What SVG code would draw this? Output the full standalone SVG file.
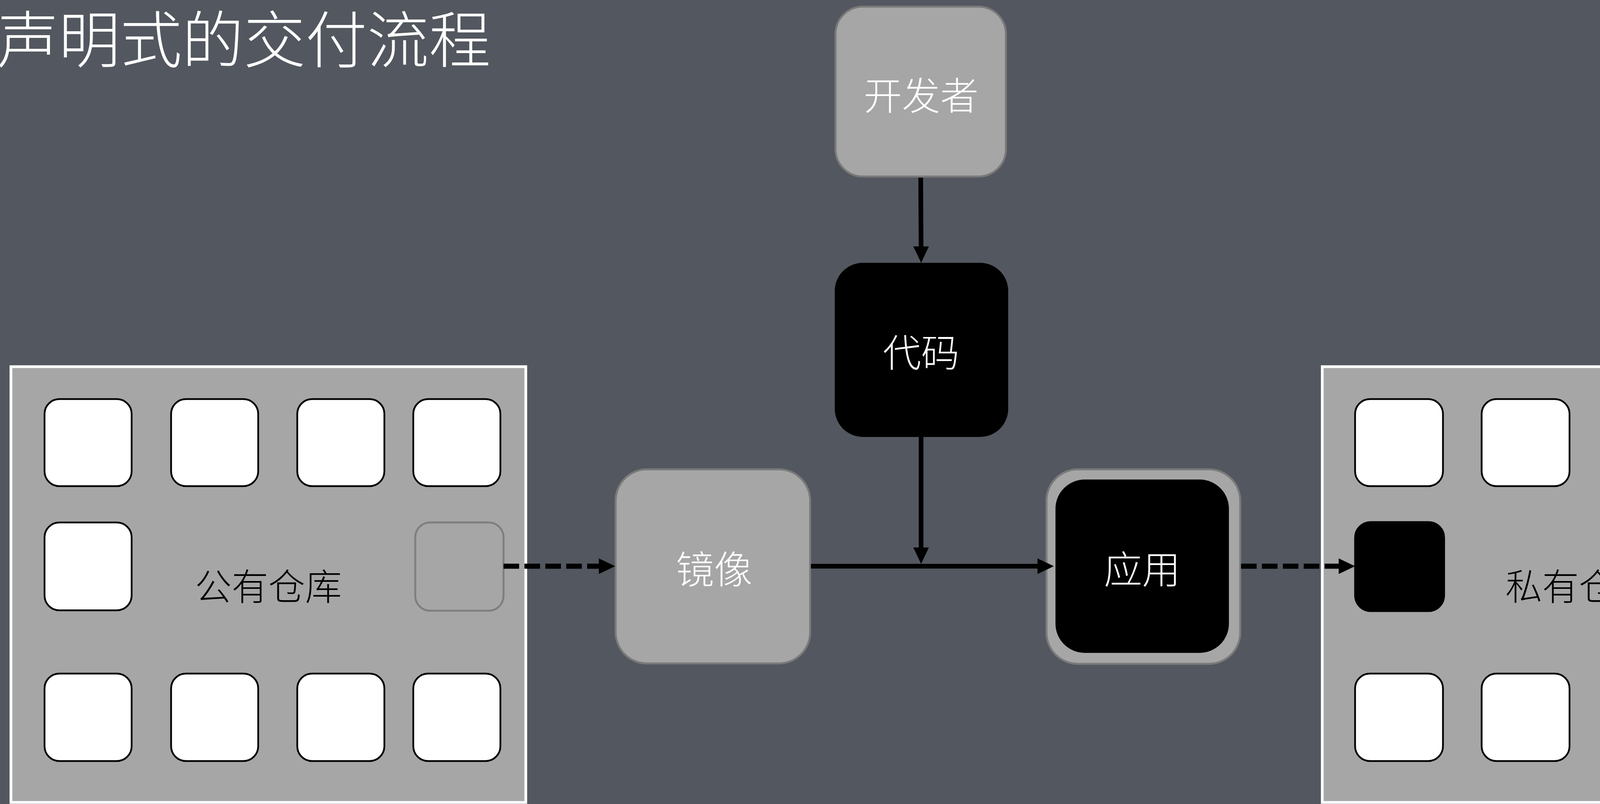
<svg xmlns="http://www.w3.org/2000/svg" width="4742" height="2059" viewBox="0 0 4742 2059">
<style>
.t{font-family:"Noto Sans CJK SC","Noto Sans",sans-serif;text-anchor:middle;font-weight:300}
.w{fill:#ffffff}
.b{fill:#000000}
.panel{fill:#a6a6a6;stroke:#ffffff;stroke-width:7}
.tile{fill:#ffffff;stroke:#000000;stroke-width:4.5}
.ghost{fill:#a6a6a6;stroke:#7f7f7f;stroke-width:5}
.dark{fill:#000000;stroke:#000000;stroke-width:4.5}
.grey{fill:#a6a6a6;stroke:#7a7a7a;stroke-width:5}
.solid{stroke:#000000;stroke-width:12;fill:none}
.dash{stroke:#000000;stroke-width:13;fill:none;stroke-dasharray:40 13.5}
</style>
<defs>
<marker id="ah" markerUnits="userSpaceOnUse" markerWidth="42" markerHeight="40" viewBox="0 0 42 40" refX="5" refY="20" orient="auto">
<path d="M0,0 L42,20 L0,40 Z" fill="#000000"/>
</marker>
</defs>
<rect x="0" y="0" width="4742" height="2059" fill="#53575f"/>
<text class="t w" x="-8" y="160" font-size="158" style="text-anchor:start">声明式的交付流程</text>

<g id="public-repo">
<rect class="panel" x="28" y="939" width="1318" height="1116"/>
<rect class="tile" x="114" y="1022" width="223" height="223" rx="38"/>
<rect class="tile" x="438" y="1022" width="223" height="223" rx="38"/>
<rect class="tile" x="761" y="1022" width="223" height="223" rx="38"/>
<rect class="tile" x="1058" y="1022" width="223" height="223" rx="38"/>
<rect class="tile" x="114" y="1338" width="223" height="225" rx="38"/>
<rect class="ghost" x="1063" y="1338" width="226" height="226" rx="38"/>
<rect class="tile" x="114" y="1725" width="223" height="224" rx="38"/>
<rect class="tile" x="438" y="1725" width="223" height="224" rx="38"/>
<rect class="tile" x="761" y="1725" width="223" height="224" rx="38"/>
<rect class="tile" x="1058" y="1725" width="223" height="224" rx="38"/>
<text class="t b" x="687" y="1537" font-size="94">公有仓库</text>
</g>

<g id="private-repo">
<rect class="panel" x="3385" y="939" width="1318" height="1116"/>
<rect class="tile" x="3469" y="1022" width="225" height="223" rx="38"/>
<rect class="tile" x="3793" y="1022" width="225" height="223" rx="38"/>
<rect class="tile" x="4116" y="1022" width="224" height="223" rx="38"/>
<rect class="tile" x="4413" y="1022" width="224" height="223" rx="38"/>
<rect class="dark" x="3469" y="1337" width="228" height="228" rx="40"/>
<rect class="tile" x="4420" y="1338" width="224" height="225" rx="38"/>
<rect class="tile" x="3469" y="1725" width="225" height="224" rx="38"/>
<rect class="tile" x="3793" y="1725" width="225" height="224" rx="38"/>
<rect class="tile" x="4116" y="1725" width="224" height="224" rx="38"/>
<rect class="tile" x="4413" y="1725" width="224" height="224" rx="38"/>
<text class="t b" x="4042" y="1537" font-size="94">私有仓库</text>
</g>

<g id="developer">
<rect class="grey" x="2139" y="17" width="436" height="435" rx="70"/>
<text class="t w" x="2358" y="281" font-size="98">开发者</text>
</g>

<g id="code">
<rect x="2137" y="673" width="444" height="446" rx="72" fill="#000000"/>
<text class="t w" x="2358" y="939" font-size="98">代码</text>
</g>

<g id="image">
<rect class="grey" x="1576" y="1202" width="498" height="497" rx="80"/>
<text class="t w" x="1828" y="1494" font-size="98">镜像</text>
</g>

<g id="app">
<rect class="grey" x="2679" y="1202" width="496" height="498" rx="80"/>
<rect x="2702" y="1228" width="444" height="444" rx="75" fill="#000000"/>
<text class="t w" x="2924" y="1494" font-size="98">应用</text>
</g>

<g id="connectors">
<line class="solid" x1="2357" y1="455" x2="2358" y2="636" marker-end="url(#ah)"/>
<line class="solid" x1="2358" y1="1119" x2="2358" y2="1407" marker-end="url(#ah)"/>
<line class="solid" x1="2076" y1="1450" x2="2661" y2="1450" marker-end="url(#ah)"/>
<line class="dash" x1="1289" y1="1450" x2="1538" y2="1450" marker-end="url(#ah)"/>
<line class="dash" x1="3177" y1="1450" x2="3432" y2="1450" marker-end="url(#ah)"/>
</g>
</svg>
